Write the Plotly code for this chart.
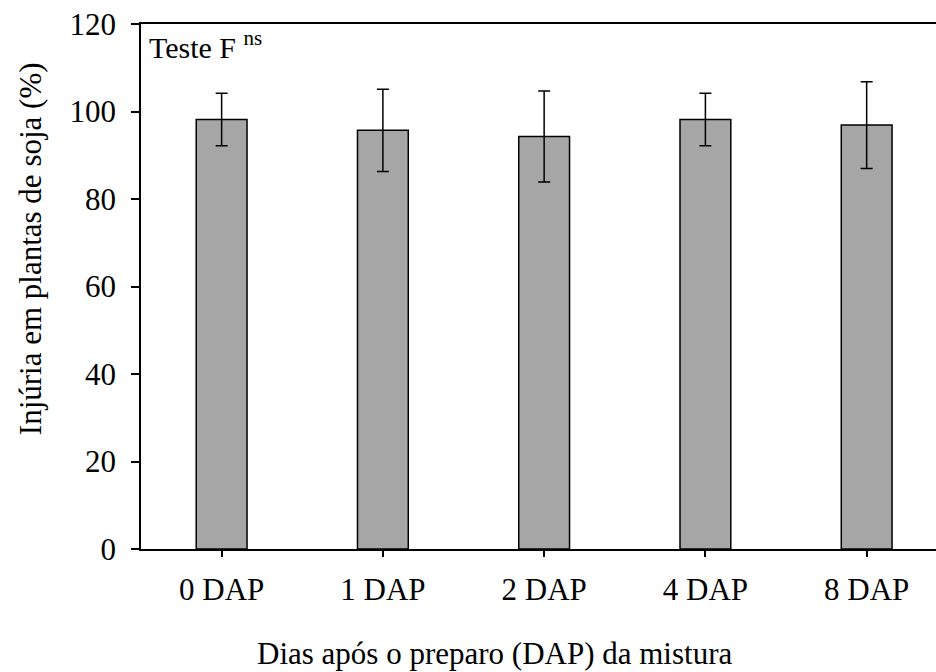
import plotly.graph_objects as go

categories = ["0 DAP", "1 DAP", "2 DAP", "4 DAP", "8 DAP"]
injury = [98.2, 95.7, 94.3, 98.2, 96.9]
error = [6.0, 9.4, 10.4, 6.0, 9.9]
y_ticks = [0, 20, 40, 60, 80, 100, 120]

FONT = "Liberation Serif"

fig = go.Figure()
fig.add_trace(go.Bar(
    x=list(range(len(categories))),
    y=injury,
    width=0.315,
    marker=dict(color="#a6a6a6", line=dict(color="black", width=1.5)),
    error_y=dict(type="data", array=error, visible=True, color="black",
                 thickness=1.5, width=6),
))

fig.update_layout(
    width=936, height=672,
    margin=dict(l=141, r=0, t=24, b=123),
    plot_bgcolor="white", paper_bgcolor="white",
    showlegend=False,
    font=dict(family=FONT, size=31, color="black"),
    xaxis=dict(
        range=[-0.5, 4.43], tickmode="array",
        tickvals=list(range(len(categories))), ticktext=categories,
        tickfont=dict(family=FONT, size=31),
        showline=True, linecolor="black", linewidth=1.5, mirror=True,
        ticks="outside", ticklen=6, tickwidth=1.5, tickcolor="black",
        showgrid=False, zeroline=False, ticklabelstandoff=6,
    ),
    yaxis=dict(
        range=[0, 120], tickvals=y_ticks,
        tickfont=dict(family=FONT, size=31),
        showline=True, linecolor="black", linewidth=1.5,
        ticks="outside", ticklen=8, tickwidth=1.5, tickcolor="black",
        showgrid=False, zeroline=False, ticklabelstandoff=9,
    ),
    annotations=[
        dict(text="Teste F <sup>ns</sup>", x=0.008, y=1.0, xref="paper", yref="paper",
             xanchor="left", yanchor="top", showarrow=False,
             font=dict(family=FONT, size=30)),
        dict(text="Dias após o preparo (DAP) da mistura", x=0.4447, y=-0.234,
             xref="paper", yref="paper", xanchor="center", yanchor="bottom",
             borderpad=0, showarrow=False, font=dict(family=FONT, size=31)),
        dict(text="Injúria em plantas de soja (%)", x=-0.139, y=0.572,
             xref="paper", yref="paper", xanchor="center", yanchor="middle",
             textangle=-90, showarrow=False, font=dict(family=FONT, size=31)),
    ],
)

fig.write_html("out.html")
